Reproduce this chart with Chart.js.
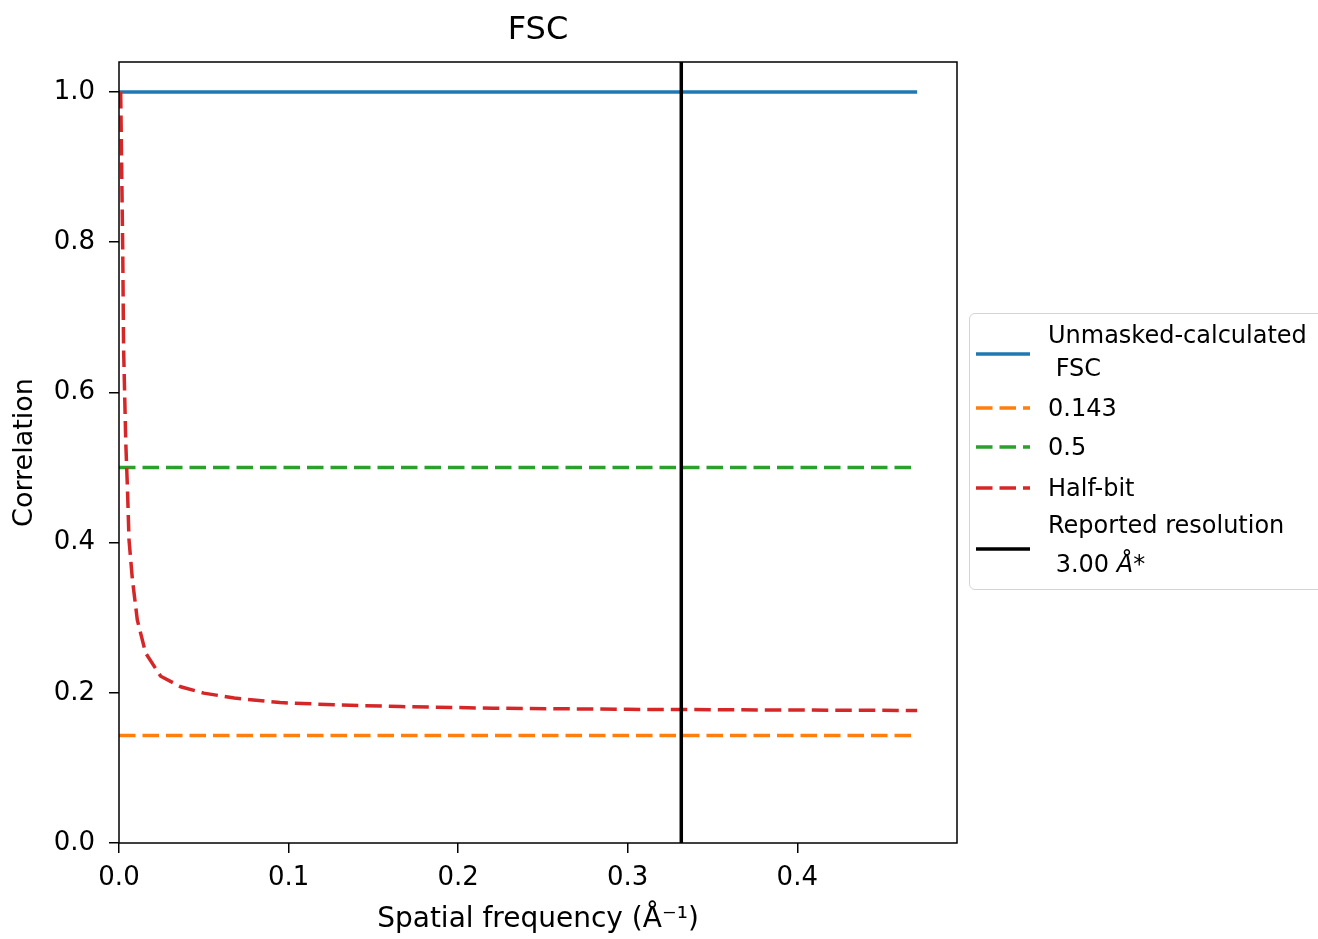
<!DOCTYPE html>
<html>
<head>
<meta charset="utf-8">
<title>FSC</title>
<script src="https://cdn.jsdelivr.net/npm/chart.js@4/dist/chart.umd.min.js"></script>
<style>
  html, body { margin: 0; padding: 0; background: #fff; overflow: hidden; }
  #wrap { position: relative; width: 1318px; height: 939px; }
  #legend {
    position: absolute; left: 969px; top: 313px; width: 400px; height: 275px;
    border: 1.5px solid #d4d4d4; border-radius: 6px; background: rgba(255,255,255,0.8);
    font-family: 'DejaVu Sans', sans-serif; font-size: 24px; color: #000;
  }
  #legend .txt { position: absolute; left: 78px; line-height: 30px; height: 30px; white-space: pre; }
  #legend svg { position: absolute; left: 0; top: 0; }
</style>
</head>
<body>
<div id="wrap">
  <canvas id="fsc" width="1318" height="939"></canvas>
  <div id="legend"></div>
</div>
<script>
// values
const fscX = [0, 0.4707];
const fscY = [1.0, 1.0];
const threshold143 = 0.143;
const threshold05 = 0.5;
const halfBitX = [0.001, 0.0022, 0.0027, 0.0040, 0.0050, 0.0059, 0.0079, 0.0108, 0.0157, 0.0246,
                  0.0364, 0.050, 0.068, 0.095, 0.127, 0.166, 0.221, 0.300, 0.380, 0.4707];
const halfBitY = [1.0, 0.79, 0.66, 0.533, 0.471, 0.404, 0.351, 0.297, 0.253, 0.222,
                  0.208, 0.1996, 0.193, 0.187, 0.184, 0.1817, 0.1795, 0.178, 0.1772, 0.1765];
const resolutionX = 0.3316;
const xTicks = [0.0, 0.1, 0.2, 0.3, 0.4];
const yTicks = [0.0, 0.2, 0.4, 0.6, 0.8, 1.0];
const xMax = 0.4942;
const yMax = 1.04;
const chartTitle = 'FSC';

const FONT = "'DejaVu Sans', sans-serif";
const pts = (xs, ys) => xs.map((x, i) => ({ x, y: ys[i] }));
const hline = (y) => pts(fscX, [y, y]);

// black frame round the plot area, like matplotlib spines, and the title centred over it
const frame = {
    id: 'frame',
    afterDraw(chart) {
        const { ctx, chartArea: a } = chart;
        ctx.save();
        ctx.strokeStyle = '#000';
        ctx.lineWidth = 1.5;
        ctx.strokeRect(a.left, a.top, a.right - a.left, a.bottom - a.top);
        ctx.fillStyle = '#000';
        ctx.font = `32px ${FONT}`;
        ctx.textAlign = 'center';
        ctx.textBaseline = 'middle';
        ctx.fillText(chartTitle, (a.left + a.right) / 2, 31);
        ctx.restore();
    }
};

const tickAxis = (ticks, extra) => Object.assign({
    type: 'linear',
    grid: { drawOnChartArea: false, drawTicks: true, tickLength: 10, color: '#000', lineWidth: 1.5 },
    border: { display: false },
    afterBuildTicks: (s) => { s.ticks = ticks.map(v => ({ value: v })); },
    ticks: { color: '#000', font: { family: FONT, size: 26 }, padding: 10, callback: (v) => v.toFixed(1) },
}, extra);

new Chart(document.getElementById('fsc'), {
    type: 'line',
    data: {
        datasets: [
            { label: 'Unmasked-calculated\n FSC', data: pts(fscX, fscY), borderColor: '#1f77b4', borderWidth: 3.5, order: 4 },
            { label: '0.143', data: hline(threshold143), borderColor: '#ff7f0e', borderWidth: 3.5, borderDash: [16.5, 7], order: 3 },
            { label: '0.5', data: hline(threshold05), borderColor: '#2ca02c', borderWidth: 3.5, borderDash: [16.5, 7], order: 2 },
            { label: 'Half-bit', data: pts(halfBitX, halfBitY), borderColor: '#d62728', borderWidth: 3.5, borderDash: [16.5, 7], order: 1 },
            { label: 'Reported resolution\n 3.00 Å*', data: pts([resolutionX, resolutionX], [0, yMax]), borderColor: '#000', borderWidth: 3.5, order: 0 },
        ],
    },
    options: {
        responsive: false,
        animation: false,
        parsing: false,
        elements: { point: { radius: 0 }, line: { tension: 0, fill: false } },
        layout: { padding: { top: 62, right: 361, bottom: 0, left: 0 } },
        plugins: {
            legend: { display: false },
            tooltip: { enabled: false },
            title: { display: false },
        },
        scales: {
            x: tickAxis(xTicks, {
                min: 0, max: xMax,
                afterFit: (s) => { s.height = 96; },
                title: { display: true, text: 'Spatial frequency (Å⁻¹)', color: '#000', font: { family: FONT, size: 28 }, padding: { top: 0, bottom: 2 } },
            }),
            y: tickAxis(yTicks, {
                min: 0, max: yMax,
                afterFit: (s) => { s.width = 119; },
                ticks: { color: '#000', font: { family: FONT, size: 26 }, padding: 14, callback: (v) => v.toFixed(1) },
                title: { display: true, text: 'Correlation', color: '#000', font: { family: FONT, size: 27 }, padding: { top: 9, bottom: 0 } },
            }),
        },
    },
    plugins: [frame],
});

// legend as html, offsets relative to the legend box
const legendRows = [
    { color: '#1f77b4', dash: '', lineY: 40, lines: ['Unmasked-calculated', ' FSC'], textY: [21, 54] },
    { color: '#ff7f0e', dash: '16.5 7', lineY: 94, lines: ['0.143'], textY: [94] },
    { color: '#2ca02c', dash: '16.5 7', lineY: 133, lines: ['0.5'], textY: [133] },
    { color: '#d62728', dash: '16.5 7', lineY: 174, lines: ['Half-bit'], textY: [174] },
    { color: '#000', dash: '', lineY: 235, lines: ['Reported resolution', ' 3.00 <i>Å</i>*'], textY: [211, 250] },
];
const leg = document.getElementById('legend');
let svg = '<svg width="70" height="275">';
legendRows.forEach(r => {
    svg += `<line x1="6" x2="60" y1="${r.lineY}" y2="${r.lineY}" stroke="${r.color}" stroke-width="3.5"${r.dash ? ` stroke-dasharray="${r.dash}"` : ''}/>`;
    r.lines.forEach((t, i) => {
        const d = document.createElement('div');
        d.className = 'txt';
        d.style.top = (r.textY[i] - 15) + 'px';
        d.innerHTML = t;
        leg.appendChild(d);
    });
});
leg.insertAdjacentHTML('afterbegin', svg + '</svg>');
</script>
</body>
</html>
